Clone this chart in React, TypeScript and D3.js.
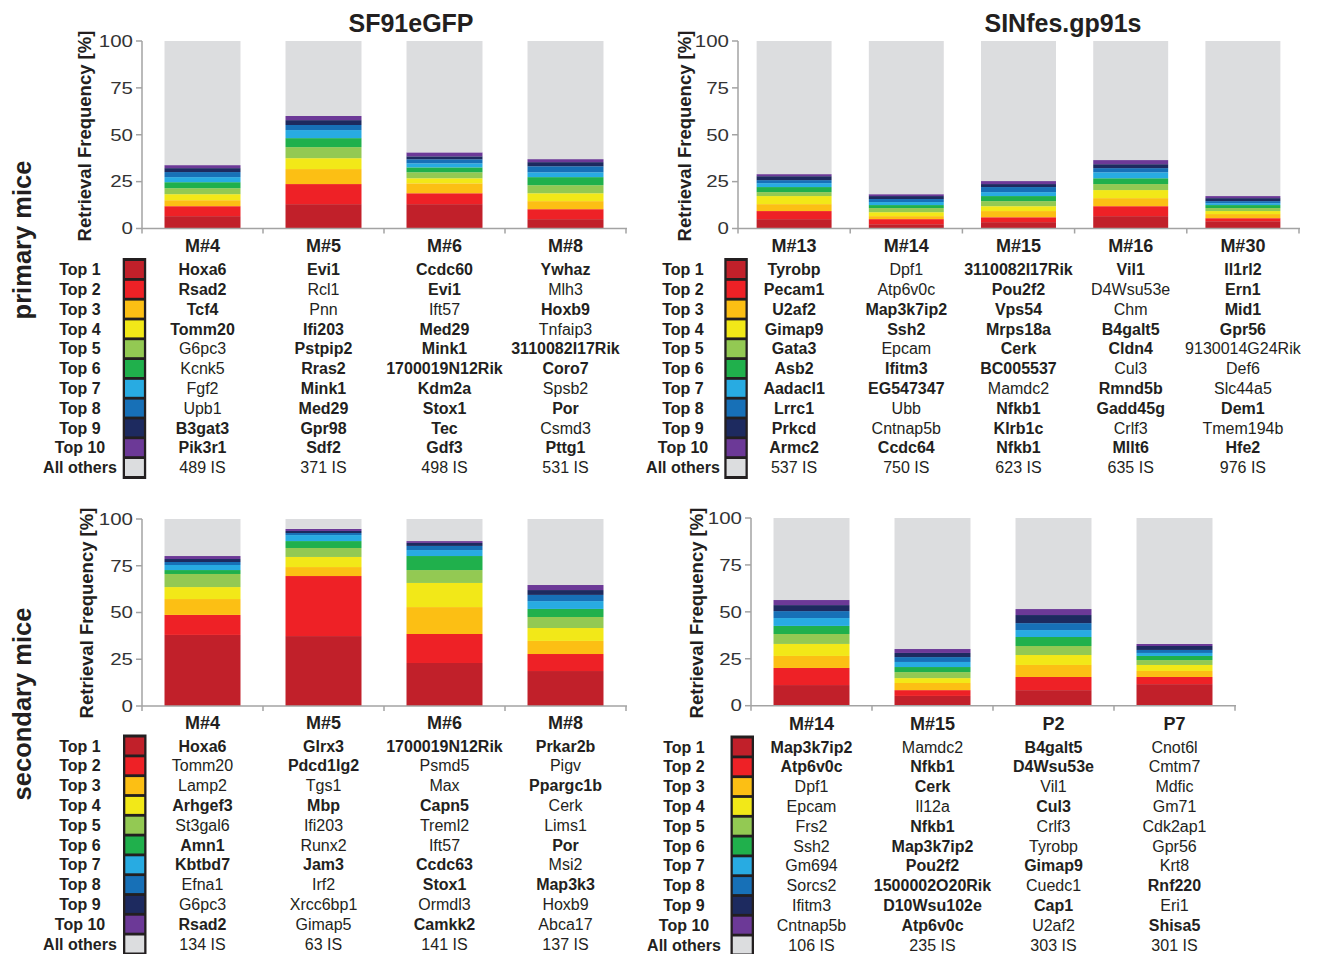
import React from "react";
import * as d3 from "d3";

const rowLabels = ["Top 1", "Top 2", "Top 3", "Top 4", "Top 5", "Top 6", "Top 7", "Top 8", "Top 9", "Top 10", "All others"];
const rankColors = ["#c1202a", "#ee2126", "#fcbf14", "#f2e818", "#93c953", "#20b04c", "#28abe2", "#1770b7", "#1d2a5f", "#6c3997", "#dcdddf"];
const yTicks = [0, 25, 50, 75, 100];

// SF91eGFP - primary mice
const sfPrimMice = ["M#4", "M#5", "M#6", "M#8"];
const sfPrimValues = [
  [6.6, 5.3, 3.2, 3.2, 3.2, 3.2, 2.7, 2.7, 2.1, 1.6],
  [13.0, 10.7, 8.0, 5.8, 5.9, 4.8, 4.3, 2.7, 2.6, 2.2],
  [13.0, 5.8, 5.3, 2.7, 3.2, 2.6, 2.2, 2.1, 1.6, 2.1],
  [5.0, 5.3, 4.3, 4.2, 4.3, 4.3, 2.6, 3.2, 2.2, 1.6],
];
const sfPrimGenes = [
  ["Hoxa6", "Rsad2", "Tcf4", "Tomm20", "G6pc3", "Kcnk5", "Fgf2", "Upb1", "B3gat3", "Pik3r1"],
  ["Evi1", "Rcl1", "Pnn", "Ifi203", "Pstpip2", "Rras2", "Mink1", "Med29", "Gpr98", "Sdf2"],
  ["Ccdc60", "Evi1", "Ift57", "Med29", "Mink1", "1700019N12Rik", "Kdm2a", "Stox1", "Tec", "Gdf3"],
  ["Ywhaz", "Mlh3", "Hoxb9", "Tnfaip3", "3110082I17Rik", "Coro7", "Spsb2", "Por", "Csmd3", "Pttg1"],
];
const sfPrimBold = [
  [1, 1, 1, 1, 0, 0, 0, 0, 1, 1],
  [1, 0, 0, 1, 1, 1, 1, 1, 1, 1],
  [1, 1, 0, 1, 1, 1, 1, 1, 1, 1],
  [1, 0, 1, 0, 1, 1, 0, 1, 0, 1],
];
const sfPrimIS = [489, 371, 498, 531];

// SINfes.gp91s - primary mice
const sinPrimMice = ["M#13", "M#14", "M#15", "M#16", "M#30"];
const sinPrimValues = [
  [5.0, 4.3, 3.7, 4.3, 2.1, 2.7, 2.1, 1.6, 2.1, 1.1],
  [2.3, 2.7, 1.6, 2.1, 2.2, 1.6, 1.6, 1.6, 1.6, 1.0],
  [3.4, 2.6, 3.3, 2.6, 2.7, 2.7, 2.1, 2.7, 1.6, 1.6],
  [6.6, 5.3, 4.3, 4.3, 3.2, 3.1, 3.2, 2.2, 2.1, 2.2],
  [3.9, 1.6, 2.2, 1.6, 1.6, 1.6, 1.0, 1.1, 1.6, 1.1],
];
const sinPrimGenes = [
  ["Tyrobp", "Pecam1", "U2af2", "Gimap9", "Gata3", "Asb2", "Aadacl1", "Lrrc1", "Prkcd", "Armc2"],
  ["Dpf1", "Atp6v0c", "Map3k7ip2", "Ssh2", "Epcam", "Ifitm3", "EG547347", "Ubb", "Cntnap5b", "Ccdc64"],
  ["3110082I17Rik", "Pou2f2", "Vps54", "Mrps18a", "Cerk", "BC005537", "Mamdc2", "Nfkb1", "Klrb1c", "Nfkb1"],
  ["Vil1", "D4Wsu53e", "Chm", "B4galt5", "Cldn4", "Cul3", "Rmnd5b", "Gadd45g", "Crlf3", "Mllt6"],
  ["Il1rl2", "Ern1", "Mid1", "Gpr56", "9130014G24Rik", "Def6", "Slc44a5", "Dem1", "Tmem194b", "Hfe2"],
];
const sinPrimBold = [
  [1, 1, 1, 1, 1, 1, 1, 1, 1, 1],
  [0, 0, 1, 1, 0, 1, 1, 0, 0, 1],
  [1, 1, 1, 1, 1, 1, 0, 1, 1, 1],
  [1, 0, 0, 1, 1, 0, 1, 1, 0, 1],
  [1, 1, 1, 1, 0, 0, 0, 1, 0, 1],
];
const sinPrimIS = [537, 750, 623, 635, 976];

// SF91eGFP - secondary mice
const sfSecMice = ["M#4", "M#5", "M#6", "M#8"];
const sfSecValues = [
  [38.0, 10.7, 8.5, 6.4, 7.0, 2.1, 2.7, 1.6, 1.6, 1.6],
  [37.4, 32.1, 4.8, 5.4, 4.8, 3.7, 3.2, 1.1, 1.1, 1.1],
  [23.0, 15.5, 14.4, 12.9, 6.9, 7.5, 3.2, 2.2, 1.6, 1.0],
  [18.7, 9.1, 7.0, 6.9, 5.9, 4.3, 4.2, 3.3, 2.6, 2.7],
];
const sfSecGenes = [
  ["Hoxa6", "Tomm20", "Lamp2", "Arhgef3", "St3gal6", "Amn1", "Kbtbd7", "Efna1", "G6pc3", "Rsad2"],
  ["Glrx3", "Pdcd1lg2", "Tgs1", "Mbp", "Ifi203", "Runx2", "Jam3", "Irf2", "Xrcc6bp1", "Gimap5"],
  ["1700019N12Rik", "Psmd5", "Max", "Capn5", "Treml2", "Ift57", "Ccdc63", "Stox1", "Ormdl3", "Camkk2"],
  ["Prkar2b", "Pigv", "Ppargc1b", "Cerk", "Lims1", "Por", "Msi2", "Map3k3", "Hoxb9", "Abca17"],
];
const sfSecBold = [
  [1, 0, 0, 1, 0, 1, 1, 0, 0, 1],
  [1, 1, 0, 1, 0, 0, 1, 0, 0, 0],
  [1, 0, 0, 1, 0, 0, 1, 1, 0, 1],
  [1, 0, 1, 0, 0, 1, 0, 1, 0, 0],
];
const sfSecIS = [134, 63, 141, 137];

// SINfes.gp91s - secondary mice
const sinSecMice = ["M#14", "M#15", "P2", "P7"];
const sinSecValues = [
  [11.0, 9.1, 6.4, 6.4, 5.3, 4.3, 4.2, 3.7, 3.2, 2.7],
  [5.2, 3.1, 3.8, 2.6, 3.2, 2.7, 2.7, 2.6, 2.2, 2.1],
  [8.3, 7.0, 6.4, 5.3, 4.8, 4.8, 3.7, 3.7, 4.3, 3.2],
  [11.5, 3.8, 3.2, 3.2, 2.6, 2.2, 1.6, 1.6, 2.1, 1.1],
];
const sinSecGenes = [
  ["Map3k7ip2", "Atp6v0c", "Dpf1", "Epcam", "Frs2", "Ssh2", "Gm694", "Sorcs2", "Ifitm3", "Cntnap5b"],
  ["Mamdc2", "Nfkb1", "Cerk", "Il12a", "Nfkb1", "Map3k7ip2", "Pou2f2", "1500002O20Rik", "D10Wsu102e", "Atp6v0c"],
  ["B4galt5", "D4Wsu53e", "Vil1", "Cul3", "Crlf3", "Tyrobp", "Gimap9", "Cuedc1", "Cap1", "U2af2"],
  ["Cnot6l", "Cmtm7", "Mdfic", "Gm71", "Cdk2ap1", "Gpr56", "Krt8", "Rnf220", "Eri1", "Shisa5"],
];
const sinSecBold = [
  [1, 1, 0, 0, 0, 0, 0, 0, 0, 0],
  [0, 1, 1, 0, 1, 1, 1, 1, 1, 1],
  [1, 1, 0, 1, 0, 0, 1, 0, 1, 0],
  [0, 0, 0, 0, 0, 0, 0, 1, 0, 1],
];
const sinSecIS = [106, 235, 303, 301];

const FONT = "'Liberation Sans', Arial, Helvetica, sans-serif";
const INK = "#231f20";
const AXIS = "#a3a3a3";

type PanelProps = {
  mice: string[];
  values: number[][];
  genes: string[][];
  bold: number[][];
  is: number[];
  x0: number;
  x1: number;
  padding: number;
  yTop: number;
  yBot: number;
  ylabX: number;
  ylabY: number;
  rowLabX: number;
  legX: number;
  headY: number;
  rowY0: number;
};

function Panel(p: PanelProps) {
  const x = d3.scaleBand<string>().domain(p.mice).range([p.x0, p.x1]).paddingInner(p.padding).paddingOuter(p.padding / 2);
  const y = d3.scaleLinear().domain([0, 100]).range([p.yBot, p.yTop]);
  const keys = d3.range(11);
  const rows = p.values.map((v, i) => {
    const r: any = { mouse: p.mice[i] };
    v.forEach((val, k) => (r[k] = val));
    r[10] = 100 - d3.sum(v);
    return r;
  });
  const series = d3.stack<any>().keys(keys as any)(rows);
  const step = 19.8;
  const boundaries = [p.x0, ...p.mice.map((m) => (x(m) as number) - (x.step() - x.bandwidth()) / 2 + x.step())];
  return (
    <g>
      {series.map((s, k) => (
        <g key={k} fill={rankColors[k]}>
          {s.map((d, i) => (
            <rect key={i} x={x(p.mice[i])} width={x.bandwidth()} y={y(d[1])} height={y(d[0]) - y(d[1])} />
          ))}
        </g>
      ))}
      {/* y axis */}
      <line x1={p.x0} x2={p.x0} y1={p.yTop} y2={p.yBot} stroke={AXIS} strokeWidth={1.5} />
      {yTicks.map((t) => (
        <g key={t}>
          <line x1={p.x0 - 6} x2={p.x0} y1={y(t)} y2={y(t)} stroke={AXIS} strokeWidth={1.5} />
          <text
            transform={`translate(${p.x0 - 9},${y(t)}) scale(1.28,1)`}
            textAnchor="end"
            dy="0.36em"
            fontSize={16}
            fill="#333"
            fontFamily={FONT}
          >
            {t}
          </text>
        </g>
      ))}
      {/* x axis */}
      <line x1={p.x0} x2={p.x1 + 1} y1={p.yBot} y2={p.yBot} stroke={AXIS} strokeWidth={1.5} />
      {boundaries.map((bx, i) => (
        <line key={i} x1={bx} x2={bx} y1={p.yBot} y2={p.yBot + 5} stroke={AXIS} strokeWidth={1.5} />
      ))}
      <text
        transform={`translate(${p.ylabX},${p.ylabY}) rotate(-90)`}
        textAnchor="middle"
        fontSize={18.5}
        fontWeight="bold"
        fill={INK}
        fontFamily={FONT}
      >
        Retrieval Frequency [%]
      </text>
      {/* legend labels and swatches */}
      <rect x={p.legX} y={p.rowY0 - 11.5} width={23.5} height={step * 10 + 23} fill="#231f20" />
      {rowLabels.map((lab, r) => (
        <g key={lab}>
          <text
            x={p.rowLabX}
            y={p.rowY0 + r * step}
            dy="0.35em"
            textAnchor="middle"
            fontSize={16}
            fontWeight="bold"
            fill={INK}
            fontFamily={FONT}
          >
            {lab}
          </text>
          <rect x={p.legX + 2.3} y={p.rowY0 + r * step - 8.5} width={18.9} height={17} fill={rankColors[r]} />
        </g>
      ))}
      {/* table columns */}
      {p.mice.map((m, i) => {
        const cx = (x(m) as number) + x.bandwidth() / 2;
        return (
          <g key={m + i} fontFamily={FONT} fill={INK} textAnchor="middle">
            <text x={cx} y={p.headY} dy="0.35em" fontSize={18} fontWeight="bold">
              {m}
            </text>
            {p.genes[i].map((g, r) => (
              <text
                key={r}
                x={cx}
                y={p.rowY0 + r * step}
                dy="0.35em"
                fontSize={16}
                fontWeight={p.bold[i][r] ? "bold" : "normal"}
              >
                {g}
              </text>
            ))}
            <text x={cx} y={p.rowY0 + 10 * step} dy="0.35em" fontSize={16}>
              {p.is[i] + " IS"}
            </text>
          </g>
        );
      })}
    </g>
  );
}

export default function App() {
  return (
    <div>
      <style>{`body{margin:0}`}</style>
      <svg width={1323} height={954} style={{ display: "block", background: "#fff" }}>
        <text x={411} y={32} textAnchor="middle" fontSize={25} fontWeight="bold" fill={INK} fontFamily={FONT}>
          SF91eGFP
        </text>
        <text x={1063} y={32} textAnchor="middle" fontSize={25} fontWeight="bold" fill={INK} fontFamily={FONT}>
          SINfes.gp91s
        </text>
        <text transform="translate(31,240) rotate(-90)" textAnchor="middle" fontSize={25.5} fontWeight="bold" fill={INK} fontFamily={FONT}>
          primary mice
        </text>
        <text transform="translate(31,704) rotate(-90)" textAnchor="middle" fontSize={25.5} fontWeight="bold" fill={INK} fontFamily={FONT}>
          secondary mice
        </text>
        <Panel
          mice={sfPrimMice} values={sfPrimValues} genes={sfPrimGenes} bold={sfPrimBold} is={sfPrimIS}
          x0={142} x1={626} padding={0.372} yTop={41} yBot={228.5}
          ylabX={91} ylabY={136} rowLabX={80} legX={122.7} headY={246} rowY0={269.5}
        />
        <Panel
          mice={sinPrimMice} values={sinPrimValues} genes={sinPrimGenes} bold={sinPrimBold} is={sinPrimIS}
          x0={738} x1={1299} padding={0.332} yTop={41} yBot={228.5}
          ylabX={691} ylabY={136} rowLabX={683} legX={724.3} headY={246} rowY0={269.5}
        />
        <Panel
          mice={sfSecMice} values={sfSecValues} genes={sfSecGenes} bold={sfSecBold} is={sfSecIS}
          x0={142} x1={626} padding={0.372} yTop={519} yBot={706}
          ylabX={93} ylabY={613} rowLabX={80} legX={123} headY={723} rowY0={746}
        />
        <Panel
          mice={sinSecMice} values={sinSecValues} genes={sinSecGenes} bold={sinSecBold} is={sinSecIS}
          x0={751} x1={1235} padding={0.372} yTop={518} yBot={705.7}
          ylabX={703} ylabY={613} rowLabX={684} legX={730.5} headY={723.5} rowY0={747}
        />
      </svg>
    </div>
  );
}
